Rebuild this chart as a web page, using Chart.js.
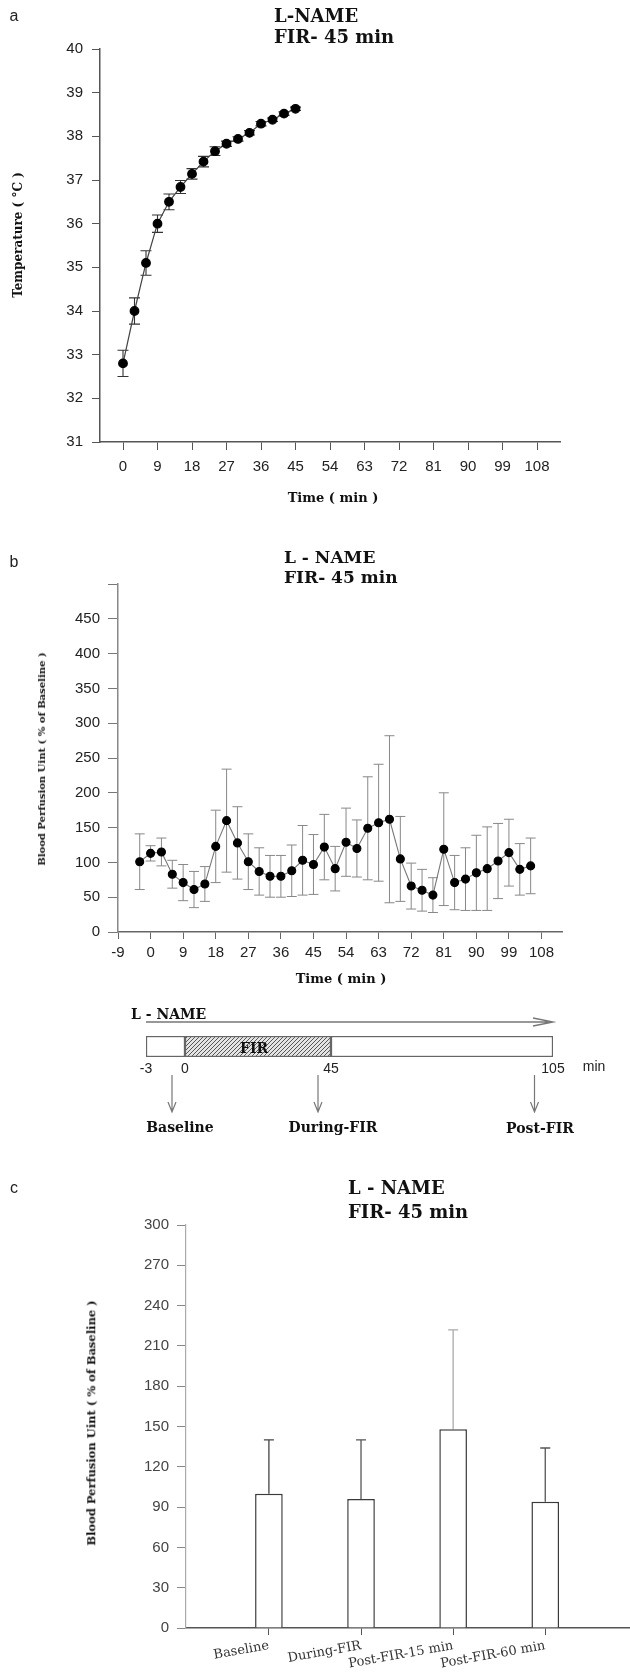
<!DOCTYPE html>
<html>
<head>
<meta charset="utf-8">
<title>L-NAME, FIR 45 min</title>
<script src="https://cdn.jsdelivr.net/npm/chart.js@4.4.1/dist/chart.umd.min.js"></script>
<style>
  html, body { margin: 0; padding: 0; background: #fff; }
  #page { position: relative; width: 630px; height: 1675px; overflow: hidden; }
  canvas { position: absolute; left: 0; }
  .t { position: absolute; white-space: nowrap; line-height: 1; color: #111; }
  .serif { font-family: 'DejaVu Serif', serif; font-weight: bold; }
  .sans { font-family: 'Liberation Sans', Arial, sans-serif; color: #222; }
  .c { transform: translate(-50%, -50%); }
  .l { transform: translateY(-50%); }
  .v { transform: translate(-50%, -50%) rotate(-90deg); }
</style>
</head>
<body>
<div id="page">
  <canvas id="tempChart" width="630" height="510" style="top:0"></canvas>
  <canvas id="perfusionChart" width="630" height="500" style="top:500px"></canvas>
  <canvas id="timelineChart" width="630" height="140" style="top:1000px"></canvas>
  <canvas id="summaryChart" width="630" height="525" style="top:1150px"></canvas>

  <!-- panel a -->
  <div class="t sans c" style="left:14px;top:16px;font-size:16px">a</div>
  <div class="t serif l" style="left:274px;top:16px;font-size:18px">L-NAME</div>
  <div class="t serif l" style="left:274px;top:37px;font-size:18px">FIR- 45 min</div>
  <div class="t serif v" style="left:18px;top:235px;font-size:12px">Temperature ( °C )</div>
  <div class="t serif c" style="left:333px;top:497px;font-size:13px">Time ( min )</div>

  <!-- panel b -->
  <div class="t sans c" style="left:14px;top:562px;font-size:16px">b</div>
  <div class="t serif l" style="left:284px;top:557px;font-size:17px">L - NAME</div>
  <div class="t serif l" style="left:284px;top:577px;font-size:17px">FIR- 45 min</div>
  <div class="t serif v" style="left:42px;top:759px;font-size:10px">Blood Perfusion Uint ( % of Baseline )</div>
  <div class="t serif c" style="left:341px;top:978px;font-size:13px">Time ( min )</div>

  <!-- protocol timeline -->
  <div class="t serif l" style="left:131px;top:1014px;font-size:14px">L - NAME</div>
  <div class="t serif c" style="left:254px;top:1048px;font-size:14px">FIR</div>
  <div class="t sans c" style="left:594px;top:1066px;font-size:14px">min</div>
  <div class="t serif c" style="left:180px;top:1127px;font-size:14px">Baseline</div>
  <div class="t serif c" style="left:333px;top:1127px;font-size:14px">During-FIR</div>
  <div class="t serif c" style="left:540px;top:1128px;font-size:14px">Post-FIR</div>

  <!-- panel c -->
  <div class="t sans c" style="left:14px;top:1188px;font-size:16px">c</div>
  <div class="t serif l" style="left:348px;top:1188px;font-size:18px">L - NAME</div>
  <div class="t serif l" style="left:348px;top:1212px;font-size:18px">FIR- 45 min</div>
  <div class="t serif v" style="left:92px;top:1423px;font-size:11.5px">Blood Perfusion Uint ( % of Baseline )</div>
</div>

<script>
// Skin temperature during FIR (mean, SD)
const tempTimes = [0, 3, 6, 9, 12, 15, 18, 21, 24, 27, 30, 33, 36, 39, 42, 45];
const tempMean = [32.8, 34.0, 35.1, 36.0, 36.5, 36.84, 37.14, 37.42, 37.66, 37.83, 37.94, 38.08, 38.29, 38.38, 38.52, 38.63];
const tempSD = [0.3, 0.3, 0.28, 0.2, 0.18, 0.15, 0.12, 0.12, 0.1, 0.06, 0.05, 0.05, 0.05, 0.04, 0.04, 0.04];
const tempTicks = [0, 9, 18, 27, 36, 45, 54, 63, 72, 81, 90, 99, 108];

// Blood perfusion, % of baseline (mean, SD)
const perfTimes = [-3, 0, 3, 6, 9, 12, 15, 18, 21, 24, 27, 30, 33, 36, 39, 42, 45, 48, 51, 54, 57,
                   60, 63, 66, 69, 72, 75, 78, 81, 84, 87, 90, 93, 96, 99, 102, 105];
const perfMean = [101, 113, 115, 83, 71, 61, 69, 123, 160, 128, 101, 87, 80, 80, 88, 103, 97, 122, 91, 129, 120,
                  149, 157, 162, 105, 66, 60, 53, 119, 71, 76, 85, 91, 102, 114, 90, 95];
const perfSD = [40, 11, 20, 20, 26, 26, 25, 52, 74, 52, 40, 34, 30, 30, 37, 50, 43, 47, 32, 49, 41,
                74, 84, 120, 61, 33, 30, 25, 81, 39, 45, 54, 60, 54, 48, 37, 40];
const perfTicks = [-9, 0, 9, 18, 27, 36, 45, 54, 63, 72, 81, 90, 99, 108];

// Protocol: L-NAME throughout, FIR from 0 to 45 min
const phaseStart = [-3, 0, 45];
const phaseEnd = [0, 45, 105];
const timelineTicks = [-3, 0, 45, 105];
const sampleTimes = [-1, 41, 100];

// Averaged perfusion per period
const barLabels = ['Baseline', 'During-FIR', 'Post-FIR-15 min', 'Post-FIR-60 min'];
const barMean = [100, 96, 148, 94];
const barSD = [40, 44, 74, 40];

Chart.defaults.font.family = "'Liberation Sans', Arial, sans-serif";
Chart.defaults.color = '#222';

// vertical SD whiskers, drawn under the markers
const errorBars = {
  id: 'errorBars',
  beforeDatasetsDraw(chart, args, opts) {
    if (!opts.sd) return;
    const ctx = chart.ctx;
    const yScale = chart.scales.y;
    const meta = chart.getDatasetMeta(0);
    const values = chart.data.datasets[0].data;
    ctx.save();
    ctx.lineWidth = opts.width || 1;
    meta.data.forEach((el, i) => {
      const v = typeof values[i] === 'object' ? values[i].y : values[i];
      const top = yScale.getPixelForValue(v + opts.sd[i]);
      const bottom = yScale.getPixelForValue(opts.upOnly ? v : v - opts.sd[i]);
      const x = el.x;
      ctx.strokeStyle = Array.isArray(opts.color) ? opts.color[i] : opts.color;
      ctx.beginPath();
      ctx.moveTo(x, top);
      ctx.lineTo(x, bottom);
      ctx.moveTo(x - opts.cap, top);
      ctx.lineTo(x + opts.cap, top);
      if (!opts.upOnly) {
        ctx.moveTo(x - opts.cap, bottom);
        ctx.lineTo(x + opts.cap, bottom);
      }
      ctx.stroke();
    });
    ctx.restore();
  }
};

// L-NAME arrow above the protocol bar and sampling arrows below it
const timelineMarks = {
  id: 'timelineMarks',
  afterDatasetsDraw(chart, args, opts) {
    const {ctx, chartArea} = chart;
    const x = chart.scales.x;
    ctx.save();
    ctx.strokeStyle = '#777';
    ctx.lineWidth = 1.4;
    const y0 = chartArea.top - 14;
    const x1 = x.getPixelForValue(x.min);
    const x2 = x.getPixelForValue(x.max);
    ctx.beginPath();
    ctx.moveTo(x1, y0);
    ctx.lineTo(x2, y0);
    ctx.moveTo(x2 - 20, y0 - 4);
    ctx.lineTo(x2, y0);
    ctx.lineTo(x2 - 20, y0 + 4);
    ctx.stroke();

    ctx.lineWidth = 1.2;
    opts.arrows.forEach(t => {
      const px = x.getPixelForValue(t);
      const b = chartArea.bottom;
      ctx.beginPath();
      ctx.moveTo(px, b + 18);
      ctx.lineTo(px, b + 55);
      ctx.moveTo(px - 4, b + 45);
      ctx.lineTo(px, b + 55);
      ctx.lineTo(px + 4, b + 45);
      ctx.stroke();
    });
    ctx.restore();
  }
};

// The protocol bar is a schematic: each phase gets its own share of the width
const phaseFrac = [0, 0.0958, 0.4545, 1];
class PhaseScale extends Chart.LinearScale {
  getPixelForValue(value) {
    if (value === null || isNaN(value)) return NaN;
    let i = 0;
    while (i < timelineTicks.length - 2 && value > timelineTicks[i + 1]) i++;
    const a = timelineTicks[i], b = timelineTicks[i + 1];
    const f = phaseFrac[i] + (value - a) / (b - a) * (phaseFrac[i + 1] - phaseFrac[i]);
    return this.getPixelForDecimal(f);
  }
  getValueForPixel(pixel) {
    const f = this.getDecimalForPixel(pixel);
    let i = 0;
    while (i < phaseFrac.length - 2 && f > phaseFrac[i + 1]) i++;
    const a = timelineTicks[i], b = timelineTicks[i + 1];
    return a + (f - phaseFrac[i]) / (phaseFrac[i + 1] - phaseFrac[i]) * (b - a);
  }
}
PhaseScale.id = 'phase';
PhaseScale.defaults = Chart.LinearScale.defaults;
Chart.register(PhaseScale);

function hatchPattern() {
  const c = document.createElement('canvas');
  c.width = 4;
  c.height = 4;
  const g = c.getContext('2d');
  g.fillStyle = '#e4e4e4';
  g.fillRect(0, 0, 4, 4);
  g.strokeStyle = '#555';
  g.lineWidth = 1;
  g.beginPath();
  g.moveTo(0, 4); g.lineTo(4, 0);
  g.moveTo(-1, 1); g.lineTo(1, -1);
  g.moveTo(3, 5); g.lineTo(5, 3);
  g.stroke();
  return g.createPattern(c, 'repeat');
}

const tickFont = {size: 15};
const axisLine = {color: '#555', width: 1.5};

// a: temperature
new Chart(document.getElementById('tempChart'), {
  type: 'line',
  data: {
    datasets: [{
      data: tempTimes.map((t, i) => ({x: t, y: tempMean[i]})),
      borderColor: '#444',
      borderWidth: 1.2,
      pointRadius: 4.3,
      pointBackgroundColor: '#000',
      pointBorderColor: '#000',
      tension: 0
    }]
  },
  options: {
    responsive: false,
    animation: false,
    events: [],
    layout: {padding: {left: 0, right: 70, top: 49, bottom: 0}},
    plugins: {
      legend: {display: false},
      tooltip: {enabled: false},
      errorBars: {sd: tempSD, color: '#333', cap: 5.5, width: 1.1}
    },
    scales: {
      x: {
        type: 'linear', min: -6, max: 114,
        afterBuildTicks: s => { s.ticks = tempTicks.map(v => ({value: v})); },
        afterFit: s => { s.height = 68; },
        ticks: {font: tickFont, padding: 8, autoSkip: false, maxRotation: 0},
        grid: {drawOnChartArea: false, tickLength: 8, color: '#555'},
        border: axisLine
      },
      y: {
        min: 31, max: 40,
        afterFit: s => { s.width = 100; },
        ticks: {stepSize: 1, font: tickFont, padding: 9},
        grid: {drawOnChartArea: false, tickLength: 8, color: '#555'},
        border: axisLine
      }
    }
  },
  plugins: [errorBars]
});

// b: perfusion over time
new Chart(document.getElementById('perfusionChart'), {
  type: 'line',
  data: {
    datasets: [{
      data: perfTimes.map((t, i) => ({x: t, y: perfMean[i]})),
      borderColor: '#777',
      borderWidth: 1.1,
      pointRadius: 4,
      pointBackgroundColor: '#000',
      pointBorderColor: '#000',
      tension: 0
    }]
  },
  options: {
    responsive: false,
    animation: false,
    events: [],
    layout: {padding: {left: 0, right: 67.5, top: 84, bottom: 0}},
    plugins: {
      legend: {display: false},
      tooltip: {enabled: false},
      errorBars: {sd: perfSD, color: '#888', cap: 5, width: 1}
    },
    scales: {
      x: {
        type: 'linear', min: -9, max: 113.8,
        afterBuildTicks: s => { s.ticks = perfTicks.map(v => ({value: v})); },
        afterFit: s => { s.height = 68; },
        ticks: {font: tickFont, padding: 5, autoSkip: false, maxRotation: 0},
        grid: {drawOnChartArea: false, tickLength: 7, color: '#666'},
        border: {color: '#666', width: 1.5}
      },
      y: {
        min: 0, max: 500,
        afterFit: s => { s.width = 118; },
        ticks: {stepSize: 50, font: tickFont, padding: 8, callback: v => (v === 500 ? '' : v)},
        grid: {drawOnChartArea: false, tickLength: 10, color: '#777'},
        border: {color: '#888', width: 1.5}
      }
    }
  },
  plugins: [errorBars]
});

// protocol timeline
const hatch = hatchPattern();
new Chart(document.getElementById('timelineChart'), {
  type: 'bar',
  data: {
    labels: ['L-NAME'],
    datasets: phaseStart.map((s, i) => ({
      data: [[s, phaseEnd[i]]],
      backgroundColor: i === 1 ? hatch : '#fff',
      borderColor: '#666',
      borderWidth: 1.5,
      borderSkipped: false,
      barThickness: 21,
      grouped: false
    }))
  },
  options: {
    indexAxis: 'y',
    responsive: false,
    animation: false,
    events: [],
    layout: {padding: {left: 146, right: 77, top: 36, bottom: 0}},
    plugins: {
      legend: {display: false},
      tooltip: {enabled: false},
      timelineMarks: {arrows: sampleTimes}
    },
    scales: {
      x: {
        type: 'phase', min: -3, max: 105,
        afterBuildTicks: s => { s.ticks = timelineTicks.map(v => ({value: v})); },
        afterFit: s => { s.height = 83; },
        ticks: {font: {size: 14}, padding: 4, autoSkip: false, maxRotation: 0},
        grid: {display: false, drawTicks: false},
        border: {display: false}
      },
      y: {display: false}
    }
  },
  plugins: [timelineMarks]
});

// c: period means
new Chart(document.getElementById('summaryChart'), {
  type: 'bar',
  data: {
    datasets: [{
      data: barMean.map((m, i) => ({x: i + 1, y: m})),
      backgroundColor: '#fff',
      borderColor: '#3a3a3a',
      borderWidth: 1.5,
      barPercentage: 0.3,
      categoryPercentage: 1
    }]
  },
  options: {
    responsive: false,
    animation: false,
    events: [],
    layout: {padding: {left: 0, right: 0, top: 75, bottom: 0}},
    plugins: {
      legend: {display: false},
      tooltip: {enabled: false},
      errorBars: {sd: barSD, color: ['#444', '#555', '#aaa', '#555'], cap: 5, width: 1.3, upOnly: true}
    },
    scales: {
      x: {
        type: 'linear', min: 0.1, max: 4.92, offset: false,
        afterBuildTicks: s => { s.ticks = barLabels.map((_, i) => ({value: i + 1})); },
        afterFit: s => { s.height = 47; },
        ticks: {
          callback: v => barLabels[Math.round(v) - 1],
          font: {family: "'DejaVu Serif', serif", size: 13},
          color: '#333', padding: 3, autoSkip: false, minRotation: 10, maxRotation: 10
        },
        grid: {offset: false, drawOnChartArea: false, tickLength: 7, color: '#555'},
        border: axisLine
      },
      y: {
        min: 0, max: 300,
        afterFit: s => { s.width = 186; },
        ticks: {stepSize: 30, font: tickFont, color: '#444', padding: 8},
        grid: {drawOnChartArea: false, tickLength: 9, color: '#888'},
        border: {color: '#aaa', width: 1.2}
      }
    }
  },
  plugins: [errorBars]
});
</script>
</body>
</html>
